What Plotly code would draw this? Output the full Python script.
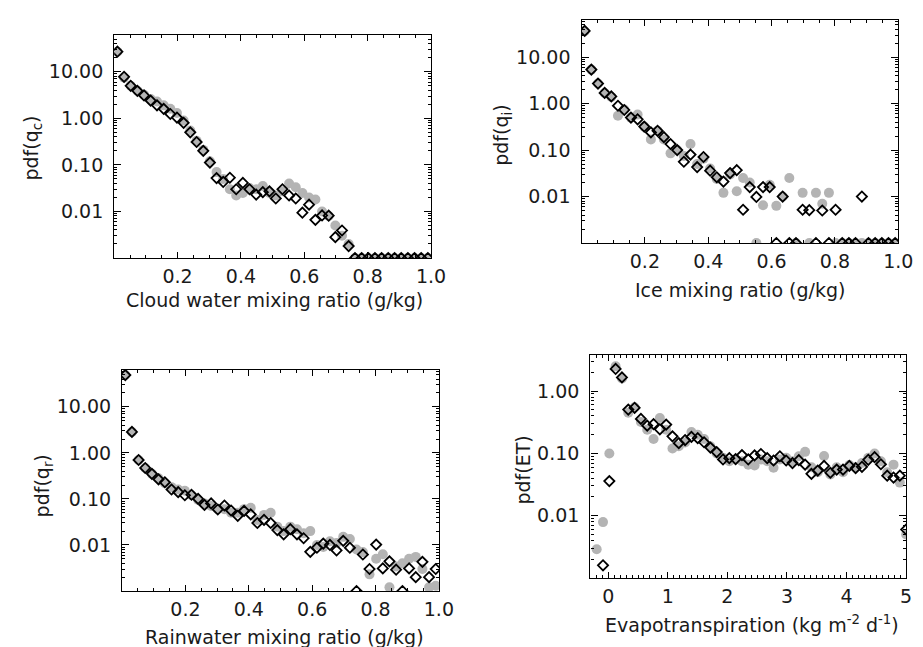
import plotly.graph_objects as go

# ---------------- data ----------------
# bin centres for the mixing-ratio histograms (g/kg)
q_bins = [0.010, 0.031, 0.052, 0.073, 0.094, 0.115, 0.135, 0.156, 0.177, 0.198,
          0.219, 0.240, 0.260, 0.281, 0.302, 0.323, 0.344, 0.365, 0.385, 0.406,
          0.427, 0.448, 0.469, 0.490, 0.510, 0.531, 0.552, 0.573, 0.594, 0.615,
          0.635, 0.656, 0.677, 0.698, 0.719, 0.740, 0.760, 0.781, 0.802, 0.823,
          0.844, 0.865, 0.885, 0.906, 0.927, 0.948, 0.969, 0.990]
# bin centres for evapotranspiration (kg m-2 d-1)
et_bins = [-0.194, -0.088, 0.018, 0.124, 0.230, 0.336, 0.442, 0.548, 0.654, 0.760,
           0.866, 0.972, 1.078, 1.184, 1.290, 1.396, 1.502, 1.608, 1.714, 1.820,
           1.926, 2.032, 2.138, 2.244, 2.350, 2.456, 2.562, 2.668, 2.774, 2.880,
           2.986, 3.092, 3.198, 3.304, 3.410, 3.516, 3.622, 3.728, 3.834, 3.940,
           4.046, 4.152, 4.258, 4.364, 4.470, 4.576, 4.682, 4.788, 4.894, 5.000]

# cloud water (0 = empty bin, drawn on the lower axis)
qc_diamond = [27, 7.8, 5.0, 3.9, 3.1, 2.4, 1.9, 1.6, 1.24, 1.04,
              0.80, 0.50, 0.31, 0.20, 0.112, 0.052, 0.043, 0.053, 0.030, 0.041,
              0.030, 0.023, 0.026, 0.027, 0.019, 0.030, 0.022, 0.019, 0.0094, 0.014,
              0.0066, 0.0082, 0.0081, 0.0028, 0.0039, 0.0018, 0, 0, 0, 0,
              0, 0, 0, 0, 0, 0, 0, 0]
qc_grey = [27, 7.5, 5.0, 3.9, 3.2, 2.6, 2.3, 1.9, 1.6, 1.3,
           0.9, 0.55, 0.33, 0.21, 0.12, 0.07, 0.05, 0.03, 0.022, 0.025,
           0.032, 0.03, 0.035, 0.025, 0.022, 0.027, 0.04, 0.033, 0.025, 0.02,
           0.018, 0.01, 0.008, 0.005, 0.003, 0.002, 0, 0, 0, 0,
           0, 0, 0, 0, 0, 0, 0, 0]

# ice
qi_diamond = [36.7, 5.4, 2.7, 1.7, 1.43, 0.90, 0.73, 0.50, 0.46, 0.32,
              0.24, 0.26, 0.19, 0.135, 0.10, 0.056, 0.080, 0.043, 0.071, 0.036,
              0.026, 0.021, 0.032, 0.037, 0.0052, 0.016, 0.0098, 0.016, 0.016, 0,
              0.010, 0, 0, 0.0052, 0.0051, 0, 0.005, 0, 0.0052, 0,
              0, 0, 0.010, 0, 0, 0, 0, 0]
qi_grey = [36, 5.4, 2.7, 1.7, 1.4, 0.55, 0.75, 0.5, 0.58, 0.32,
           0.17, 0.26, 0.17, 0.085, 0.10, 0.075, 0.135, 0.05, 0.065, 0.04,
           0.024, 0.012, 0.03, 0.013, 0.025, 0.02, 0, 0.0065, 0.018, 0.0063,
           0.010, 0.025, 0, 0.012, 0, 0.012, 0.007, 0.012, 0, 0,
           0, 0, 0, 0, 0, 0, 0, 0]

# rain
qr_diamond = [49, 2.85, 0.70, 0.47, 0.35, 0.265, 0.23, 0.16, 0.14, 0.12,
              0.123, 0.10, 0.074, 0.08, 0.059, 0.072, 0.056, 0.043, 0.055, 0.046,
              0.030, 0.035, 0.030, 0.021, 0.017, 0.022, 0.017, 0.014, 0.0071, 0.0087,
              0.0107, 0.010, 0.0076, 0.0123, 0.0087, 0, 0.0062, 0.003, 0.0102, 0.0031,
              0.0044, 0.0029, 0, 0.0031, 0.002, 0.0043, 0.002, 0.003]
qr_grey = [49, 2.85, 0.70, 0.47, 0.35, 0.28, 0.22, 0.18, 0.16, 0.15,
           0.12, 0.095, 0.08, 0.07, 0.06, 0.06, 0.05, 0.05, 0.06, 0.064,
           0.035, 0.045, 0.05, 0.025, 0.02, 0.025, 0.022, 0.018, 0.02, 0.01,
           0.009, 0.012, 0.011, 0.015, 0.0135, 0.008, 0.007, 0.0023, 0.005, 0.0063,
           0.0012, 0.0034, 0.004, 0.005, 0.0055, 0.003, 0.0012, 0.0013]

# evapotranspiration (None = no marker)
et_diamond = [None, 0.0016, 0.036, 2.27, 1.66, 0.506, 0.54, 0.358, 0.279, 0.295,
              0.244, 0.29, 0.188, 0.146, 0.164, 0.184, 0.176, 0.151, 0.124, 0.105,
              0.080, 0.084, 0.081, 0.094, 0.080, 0.093, 0.098, 0.084, 0.077, 0.090,
              0.077, 0.070, 0.078, 0.066, 0.047, 0.053, 0.063, 0.049, 0.055, 0.055,
              0.063, 0.058, 0.061, 0.079, 0.087, 0.067, 0.044, 0.041, 0.044, 0.006]
et_grey = [0.0029, 0.0079, 0.10, 2.5, 1.6, 0.45, 0.55, 0.32, 0.24, 0.17,
           0.37, 0.24, 0.12, 0.13, 0.15, 0.22, 0.2, 0.17, 0.13, 0.1,
           0.085, 0.075, 0.08, 0.075, 0.066, 0.064, 0.08, 0.075, 0.059, 0.08,
           0.085, 0.075, 0.09, 0.106, 0.06, 0.05, 0.091, 0.046, 0.06, 0.05,
           0.065, 0.06, 0.07, 0.085, 0.1, 0.075, 0.05, 0.066, 0.034, 0.005]

y_tickvals = [0.01, 0.1, 1, 10]
y_ticktext = ["0.01", "0.10", "1.00", "10.00"]
q_tickvals = [0.2, 0.4, 0.6, 0.8, 1.0]
q_ticktext = ["0.2", "0.4", "0.6", "0.8", "1.0"]
et_tickvals = [0, 1, 2, 3, 4, 5]
et_ticktext = ["0", "1", "2", "3", "4", "5"]

# ---------------- layout helpers ----------------
W, H = 923, 647
FLOOR = 0.001
FONT = "DejaVu Sans"
TXT = "#1a1a1a"
FS = 19

panels = [
    dict(x=q_bins, d=qc_diamond, g=qc_grey, box=(108, 430, 27, 250), yr=[-3.0, 1.79],
         xr=[0, 1.0], xtv=q_tickvals, xtt=q_ticktext, xminor=0.05,
         xtitle="Cloud water mixing ratio (g/kg)", xtpos=(271, 292),
         ytitle="pdf(q<sub>c</sub>)", ytpos=(25, 140)),
    dict(x=q_bins, d=qi_diamond, g=qi_grey, box=(583, 905, 12, 235), yr=[-3.0, 1.80],
         xr=[0, 1.0], xtv=q_tickvals, xtt=q_ticktext, xminor=0.05,
         xtitle="Ice mixing ratio (g/kg)", xtpos=(744, 282),
         ytitle="pdf(q<sub>i</sub>)", ytpos=(503, 127)),
    dict(x=q_bins, d=qr_diamond, g=qr_grey, box=(116, 438, 362, 583), yr=[-3.0, 1.80],
         xr=[0, 1.0], xtv=q_tickvals, xtt=q_ticktext, xminor=0.05,
         xtitle="Rainwater mixing ratio (g/kg)", xtpos=(281, 629),
         ytitle="pdf(q<sub>r</sub>)", ytpos=(36, 478)),
    dict(x=et_bins, d=et_diamond, g=et_grey, box=(592, 913, 347, 570), yr=[-3.0, 0.58],
         xr=[-0.3, 5.0], xtv=et_tickvals, xtt=et_ticktext, xminor=0.1,
         xtitle="Evapotranspiration (kg m<sup>-2</sup> d<sup>-1</sup>)", xtpos=(756, 616),
         ytitle="pdf(ET)", ytpos=(523, 462)),
]


def floor_zero(vals):
    return [None if v is None else (v if v > 0 else FLOOR) for v in vals]


def minor_log(lo, hi):
    out = []
    for e in range(int(lo) - 1, int(hi) + 2):
        for m in range(2, 10):
            out.append(m * 10 ** e)
    return out


fig = go.Figure()
layout = dict(width=W, height=H, margin=dict(l=0, r=0, t=0, b=0),
              paper_bgcolor="white", plot_bgcolor="white", showlegend=False,
              font=dict(family=FONT, size=FS, color=TXT))
annotations = []

for i, p in enumerate(panels, start=1):
    xa = "x" if i == 1 else f"x{i}"
    ya = "y" if i == 1 else f"y{i}"
    x0, x1, y0, y1 = p["box"]
    fig.add_trace(go.Scatter(
        x=p["x"], y=floor_zero(p["g"]), mode="markers", xaxis=xa, yaxis=ya,
        marker=dict(symbol="circle", size=10, color="#b4b4b4", line=dict(width=0)),
        cliponaxis=True, hoverinfo="skip"))
    fig.add_trace(go.Scatter(
        x=p["x"], y=floor_zero(p["d"]), mode="markers", xaxis=xa, yaxis=ya,
        marker=dict(symbol="diamond-open", size=7.8, color="black",
                    line=dict(width=1.8, color="black")),
        cliponaxis=True, hoverinfo="skip"))

    common = dict(showline=True, linecolor="black", linewidth=1.4, mirror="allticks",
                  ticks="inside", tickcolor="black", tickwidth=1, showgrid=False,
                  zeroline=False, tickfont=dict(family=FONT, size=FS, color=TXT))
    layout["xaxis" if i == 1 else f"xaxis{i}"] = dict(
        common, domain=[x0 / W, x1 / W], anchor=ya, range=p["xr"],
        tickmode="array", tickvals=p["xtv"], ticktext=p["xtt"], ticklen=6,
        ticklabelstandoff=1,
        minor=dict(tickmode="linear", tick0=0, dtick=p["xminor"], ticks="inside",
                   ticklen=3, tickcolor="black", showgrid=False))
    layout["yaxis" if i == 1 else f"yaxis{i}"] = dict(
        common, domain=[1 - y1 / H, 1 - y0 / H], anchor=xa, type="log", range=p["yr"],
        tickmode="array", tickvals=y_tickvals, ticktext=y_ticktext, ticklen=7,
        ticklabelstandoff=6,
        minor=dict(tickmode="array", tickvals=minor_log(p["yr"][0], p["yr"][1]),
                   ticks="inside", ticklen=3, tickcolor="black", showgrid=False))

    annotations.append(dict(text=p["xtitle"], x=p["xtpos"][0] / W, y=1 - p["xtpos"][1] / H,
                            xref="paper", yref="paper", showarrow=False,
                            xanchor="center", yanchor="middle",
                            font=dict(family=FONT, size=FS, color=TXT)))
    annotations.append(dict(text=p["ytitle"], x=p["ytpos"][0] / W, y=1 - p["ytpos"][1] / H,
                            xref="paper", yref="paper", showarrow=False, textangle=-90,
                            xanchor="center", yanchor="middle",
                            font=dict(family=FONT, size=FS, color=TXT)))

layout["annotations"] = annotations
fig.update_layout(**layout)
fig.write_html("out.html")
